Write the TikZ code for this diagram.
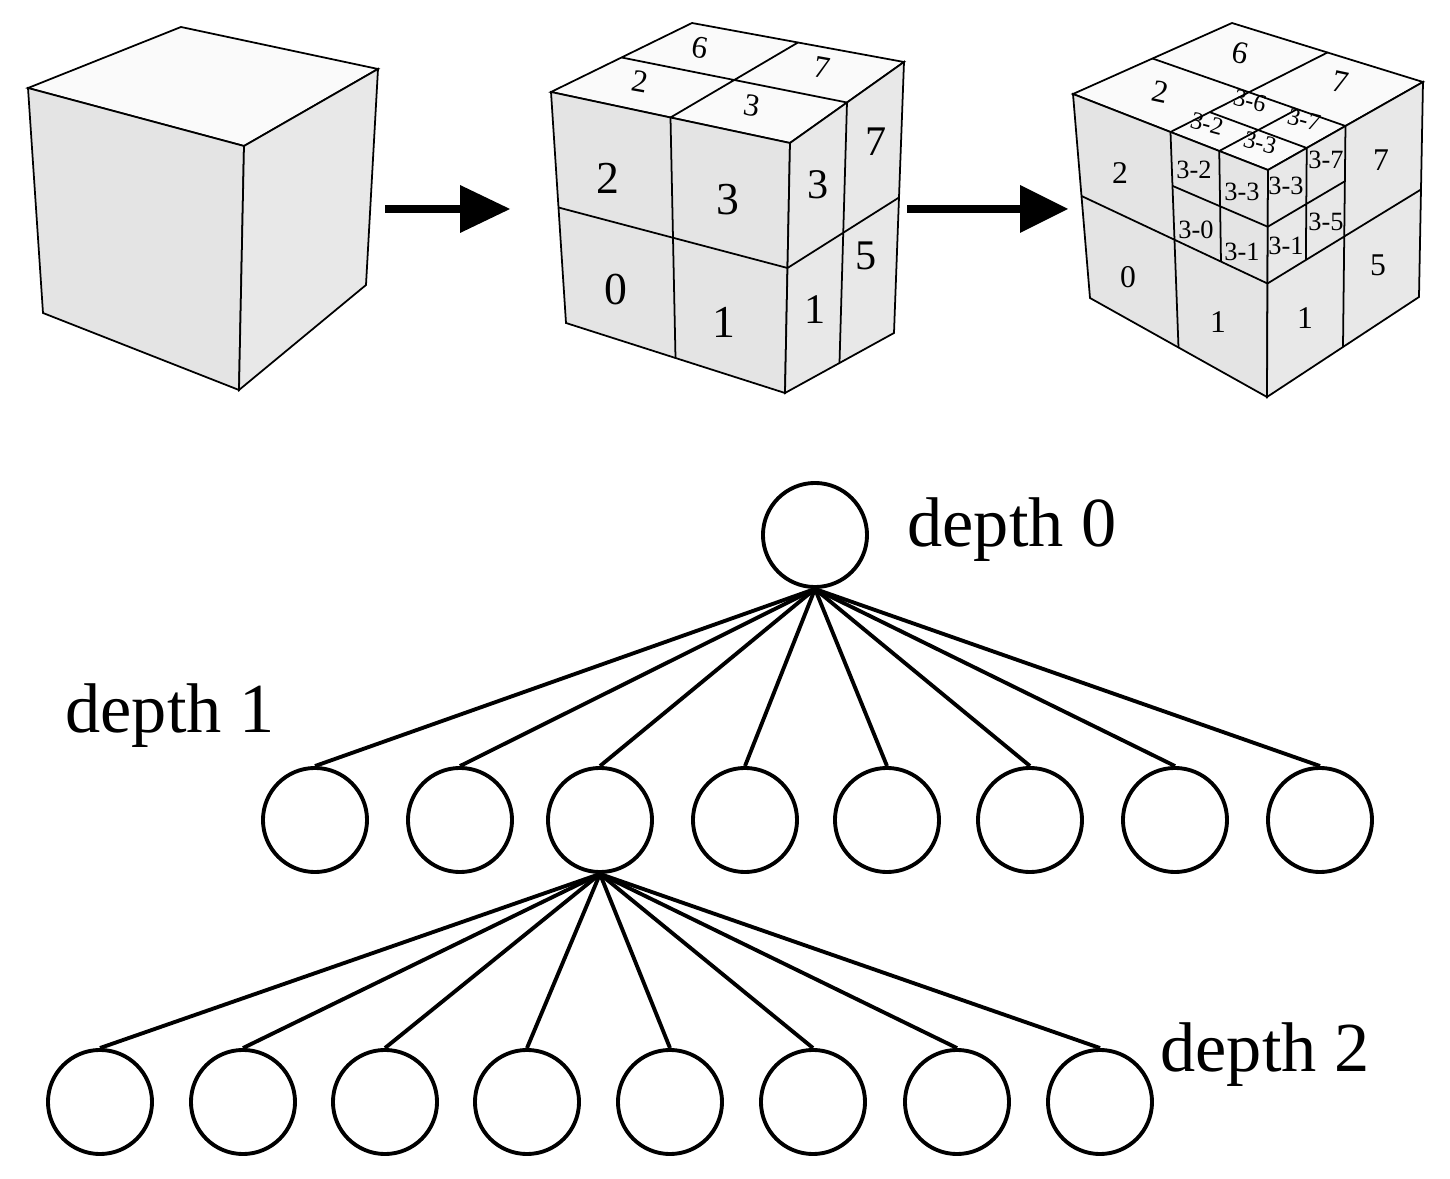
\documentclass[tikz,border=0pt]{standalone}
\usepackage{fontspec}
\setmainfont{Liberation Serif}
\usetikzlibrary{calc}
\newcommand\bpt[7]{\coordinate (#7) at ($($(#1)!#5!(#2)$)!#6!($(#3)!#5!(#4)$)$);}
\newcommand\fgrid[4]{%
 \bpt{#1}{#2}{#3}{#4}{.5}{0}{ga}\bpt{#1}{#2}{#3}{#4}{.5}{1}{gb}%
 \bpt{#1}{#2}{#3}{#4}{0}{.5}{gc}\bpt{#1}{#2}{#3}{#4}{1}{.5}{gd}%
 \draw[edge] (ga)--(gb) (gc)--(gd);}
\newcommand\sgrid[8]{% quadrant s in [#5,#6], t in [#7,#8]
 \pgfmathsetmacro\smid{(#5+#6)/2}\pgfmathsetmacro\tmid{(#7+#8)/2}%
 \bpt{#1}{#2}{#3}{#4}{\smid}{#7}{ga}\bpt{#1}{#2}{#3}{#4}{\smid}{#8}{gb}%
 \bpt{#1}{#2}{#3}{#4}{#5}{\tmid}{gc}\bpt{#1}{#2}{#3}{#4}{#6}{\tmid}{gd}%
 \draw[edge] (ga)--(gb) (gc)--(gd);}
\newcommand\cube[8]{% prefix, BT, LT, FT, RT, LB, FB, RB
 \coordinate (#1bt) at #2; \coordinate (#1lt) at #3; \coordinate (#1ft) at #4;
 \coordinate (#1rt) at #5; \coordinate (#1lb) at #6; \coordinate (#1fb) at #7;
 \coordinate (#1rb) at #8;
 \filldraw[edge,fill=topc] (#1bt)--(#1lt)--(#1ft)--(#1rt)--cycle;
 \filldraw[edge,fill=facec] (#1lt)--(#1ft)--(#1fb)--(#1lb)--cycle;
 \filldraw[edge,fill=sidec] (#1ft)--(#1rt)--(#1rb)--(#1fb)--cycle;}
\definecolor{topc}{RGB}{250,250,250}
\definecolor{facec}{RGB}{228,228,228}
\definecolor{sidec}{RGB}{232,232,232}
\tikzset{edge/.style={line width=0.5pt,black},
 tn/.style={circle,draw,line width=1.1pt,minimum size=1.04cm,inner sep=0pt},
 tl/.style={line width=1.1pt},
 big/.style={font=\fontsize{13}{13}\selectfont},
 med/.style={font=\fontsize{12}{12}\selectfont},
 sm/.style={font=\fontsize{9}{9}\selectfont},
 xs/.style={font=\fontsize{7.5}{7.5}\selectfont,inner sep=0pt},
 sub/.style={font=\fontsize{7}{7}\selectfont,inner sep=0pt},
 dl/.style={font=\fontsize{20}{20}\selectfont},
 arr/.style={line width=2.3pt},
 head/.style={fill=black}}
\begin{document}
\begin{tikzpicture}[x={(0.01cm,0)},y={(0,-0.01cm)}]
\useasboundingbox (0,0) rectangle (1450,1179);
% cube 1
\cube{a}{(181,27)}{(28,88)}{(244,146)}{(378,69)}{(43,313)}{(239,390)}{(366,285)}
% arrow 1
\coordinate (a1s) at (385,209); \coordinate (a1e) at (462,209);
\draw[arr] (a1s)--(a1e);
\fill[head] (460,185)--(510,209)--(460,233)--cycle;
% cube 2
\cube{b}{(692,23)}{(551,92)}{(790,143)}{(904,62)}{(566,323)}{(785,393)}{(894,333)}
\fgrid{blt}{bft}{blb}{bfb}
\fgrid{blt}{bft}{bbt}{brt}
\fgrid{bft}{brt}{bfb}{brb}
\node[sm,rotate=-10] (b6) at (700,48) {6};
\node[sm,rotate=-10] (b2t) at (640,82) {2};
\node[sm,rotate=-10] (b7t) at (822,68) {7};
\node[sm,rotate=-10] (b3t) at (752,106) {3};
\node[big] (b2) at (608,178) {2};
\node[big] (b3) at (728,200) {3};
\node[big] (b0) at (616,290) {0};
\node[big] (b1) at (724,322) {1};
\node[med] (b3r) at (818,185) {3};
\node[med] (b7r) at (876,142) {7};
\node[med] (b1r) at (815,310) {1};
\node[med] (b5r) at (866,256) {5};
% arrow 2
\coordinate (a2s) at (907,209); \coordinate (a2e) at (1022,209);
\draw[arr] (a2s)--(a2e);
\fill[head] (1020,185)--(1068,209)--(1020,233)--cycle;
% cube 3
\cube{c}{(1232,23)}{(1073,94)}{(1268,170)}{(1423,82)}{(1090,298)}{(1267,397)}{(1419,297)}
\fgrid{clt}{cft}{clb}{cfb}
\fgrid{clt}{cft}{cbt}{crt}
\fgrid{cft}{crt}{cfb}{crb}
\sgrid{clt}{cft}{clb}{cfb}{.5}{1}{0}{.5}
\sgrid{clt}{cft}{cbt}{crt}{.5}{1}{0}{.5}
\sgrid{cft}{crt}{cfb}{crb}{0}{.5}{0}{.5}
\node[sm,rotate=-12] (c6) at (1240,53) {6};
\node[sm,rotate=-12] (c2t) at (1160,92) {2};
\node[sm,rotate=-12] (c7t) at (1340,82) {7};
\node[sub,rotate=-15] (c36t) at (1250,101) {3-6};
\node[sub,rotate=-15] (c32t) at (1207,124) {3-2};
\node[sub,rotate=-15] (c37t) at (1304,120) {3-7};
\node[sub,rotate=-15] (c33t) at (1260,143) {3-3};
\node[sm] (c2) at (1120,173) {2};
\node[sm] (c0) at (1128,277) {0};
\node[sm] (c1) at (1218,322) {1};
\node[xs] (c32) at (1194,170) {3-2};
\node[xs] (c33) at (1242,192) {3-3};
\node[xs] (c30) at (1196,230) {3-0};
\node[xs] (c31) at (1242,252) {3-1};
\node[xs] (c33r) at (1286,186) {3-3};
\node[xs] (c37r) at (1326,160) {3-7};
\node[sm] (c7r) at (1381,160) {7};
\node[xs] (c31r) at (1286,246) {3-1};
\node[xs] (c35r) at (1326,222) {3-5};
\node[sm] (c5r) at (1378,265) {5};
\node[sm] (c1r) at (1305,318) {1};
% tree
\node[tn] (r) at (815,535) {};
\foreach \i/\x in {1/315,2/460,3/600,4/745,5/887,6/1030,7/1175,8/1320}
  {\node[tn] (d\i) at (\x,820) {}; \draw[tl] (r.south)--(d\i.north);}
\foreach \i/\x in {1/100,2/243,3/385,4/527,5/670,6/813,7/957,8/1100}
  {\node[tn] (e\i) at (\x,1102) {}; \draw[tl] (d3.south)--(e\i.north);}
\node[dl] (l0) at (1012,530) {depth 0};
\node[dl] (l1) at (170,716) {depth 1};
\node[dl] (l2) at (1265,1055) {depth 2};
\end{tikzpicture}
\end{document}
